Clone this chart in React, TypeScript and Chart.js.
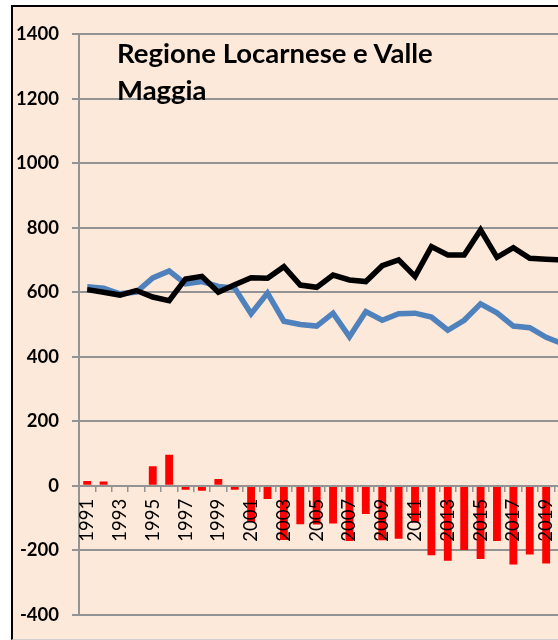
import React, { useEffect, useRef } from "react";
import { Chart, registerables } from "chart.js";

Chart.register(...registerables);

const years: string[] = [
  "1991", "1992", "1993", "1994", "1995", "1996", "1997", "1998", "1999", "2000",
  "2001", "2002", "2003", "2004", "2005", "2006", "2007", "2008", "2009", "2010",
  "2011", "2012", "2013", "2014", "2015", "2016", "2017", "2018", "2019", "2020",
];

const blueSeries: number[] = [
  617, 612, 595, 600, 644, 666, 626, 633, 618, 613,
  533, 597, 510, 500, 495, 535, 462, 540, 513, 533,
  535, 523, 482, 513, 564, 536, 495, 490, 460, 440,
];

const blackSeries: number[] = [
  608, 600, 591, 605, 585, 574, 641, 649, 600, 623,
  645, 643, 679, 622, 615, 653, 638, 633, 682, 700,
  649, 741, 715, 715, 793, 708, 738, 705, 702, 700,
];

const diffBars: number[] = [
  15, 13, 3, -4, 61, 96, -12, -15, 21, -12,
  -112, -41, -168, -119, -120, -117, -171, -87, -169, -164,
  -114, -215, -232, -199, -227, -171, -244, -213, -241, -260,
];

const yTicks = { min: -400, max: 1400, step: 200 };
const titleLines: string[] = ["Regione Locarnese e Valle", "Maggia"];

export default function App() {
  const canvasRef = useRef<HTMLCanvasElement | null>(null);

  useEffect(() => {
    const canvas = canvasRef.current;
    if (!canvas) return;
    const grey = "#939393";
    const chart = new Chart(canvas, {
      type: "bar",
      data: {
        labels: years,
        datasets: [
          {
            type: "line",
            data: blackSeries,
            borderColor: "#000000",
            borderWidth: 5.5,
            pointRadius: 0,
            tension: 0,
            fill: false,
          } as any,
          {
            type: "line",
            data: blueSeries,
            borderColor: "#4F81BD",
            borderWidth: 5.5,
            pointRadius: 0,
            tension: 0,
            fill: false,
          } as any,
          {
            type: "bar",
            data: diffBars,
            backgroundColor: "#FF0000",
            borderWidth: 0,
            categoryPercentage: 1,
            barPercentage: 0.48,
          },
        ],
      },
      options: {
        responsive: false,
        animation: false,
        layout: { padding: { left: 0, top: 27, right: 16, bottom: 21.5 } },
        plugins: {
          legend: { display: false },
          tooltip: { enabled: false },
          title: { display: false },
        },
        scales: {
          x: {
            position: { y: 0 } as any,
            offset: true,
            grid: {
              display: true,
              drawOnChartArea: false,
              drawTicks: true,
              tickLength: 5,
              color: grey,
              lineWidth: 1.5,
              offset: true,
              z: 1,
            } as any,
            border: { display: true, color: grey, width: 2, z: 1 } as any,
            ticks: {
              z: 1,
              autoSkip: false,
              minRotation: 90,
              maxRotation: 90,
              padding: 8,
              color: "#000000",
              font: { family: "Lato", size: 18.5, weight: "normal" },
              callback: (_v: any, i: number) => (i % 2 === 0 ? years[i] : ""),
            },
            afterFit: (scale: any) => {
              scale.height = 0;
            },
          },
          y: {
            min: yTicks.min,
            max: yTicks.max,
            ticks: {
              stepSize: yTicks.step,
              padding: 13,
              color: "#000000",
              font: { family: "Lato", size: 18.5, weight: "bold" },
              callback: (v: any) => String(v),
            },
            grid: {
              color: grey,
              lineWidth: 2,
              tickLength: 7,
              drawTicks: true,
            },
            border: { display: true, color: grey, width: 2 },
            afterFit: (scale: any) => {
              scale.width = 66;
            },
          },
        },
      },
    });
    return () => chart.destroy();
  }, []);

  return (
    <div
      style={{
        position: "fixed",
        left: 0,
        top: 0,
        width: 558,
        height: 640,
        overflow: "hidden",
        background: "#ffffff",
      }}
    >
      <div
        style={{
          position: "absolute",
          left: 11,
          top: 5,
          width: 600,
          height: 632,
          borderLeft: "2px solid #000",
          borderTop: "2px solid #000",
          borderBottom: "1px solid #d0d0d0",
          background: "#FDE9D9",
        }}
      >
        <canvas
          ref={canvasRef}
          width={580}
          height={632}
          style={{ position: "absolute", left: 0, top: 0 }}
        />
        <div
          style={{
            position: "absolute",
            left: 104,
            top: 27,
            fontFamily: "Lato, sans-serif",
            fontWeight: "bold",
            fontSize: 27.5,
            lineHeight: "37px",
            color: "#000",
            whiteSpace: "nowrap",
          }}
        >
          {titleLines[0]}
          <br />
          {titleLines[1]}
        </div>
      </div>
    </div>
  );
}
